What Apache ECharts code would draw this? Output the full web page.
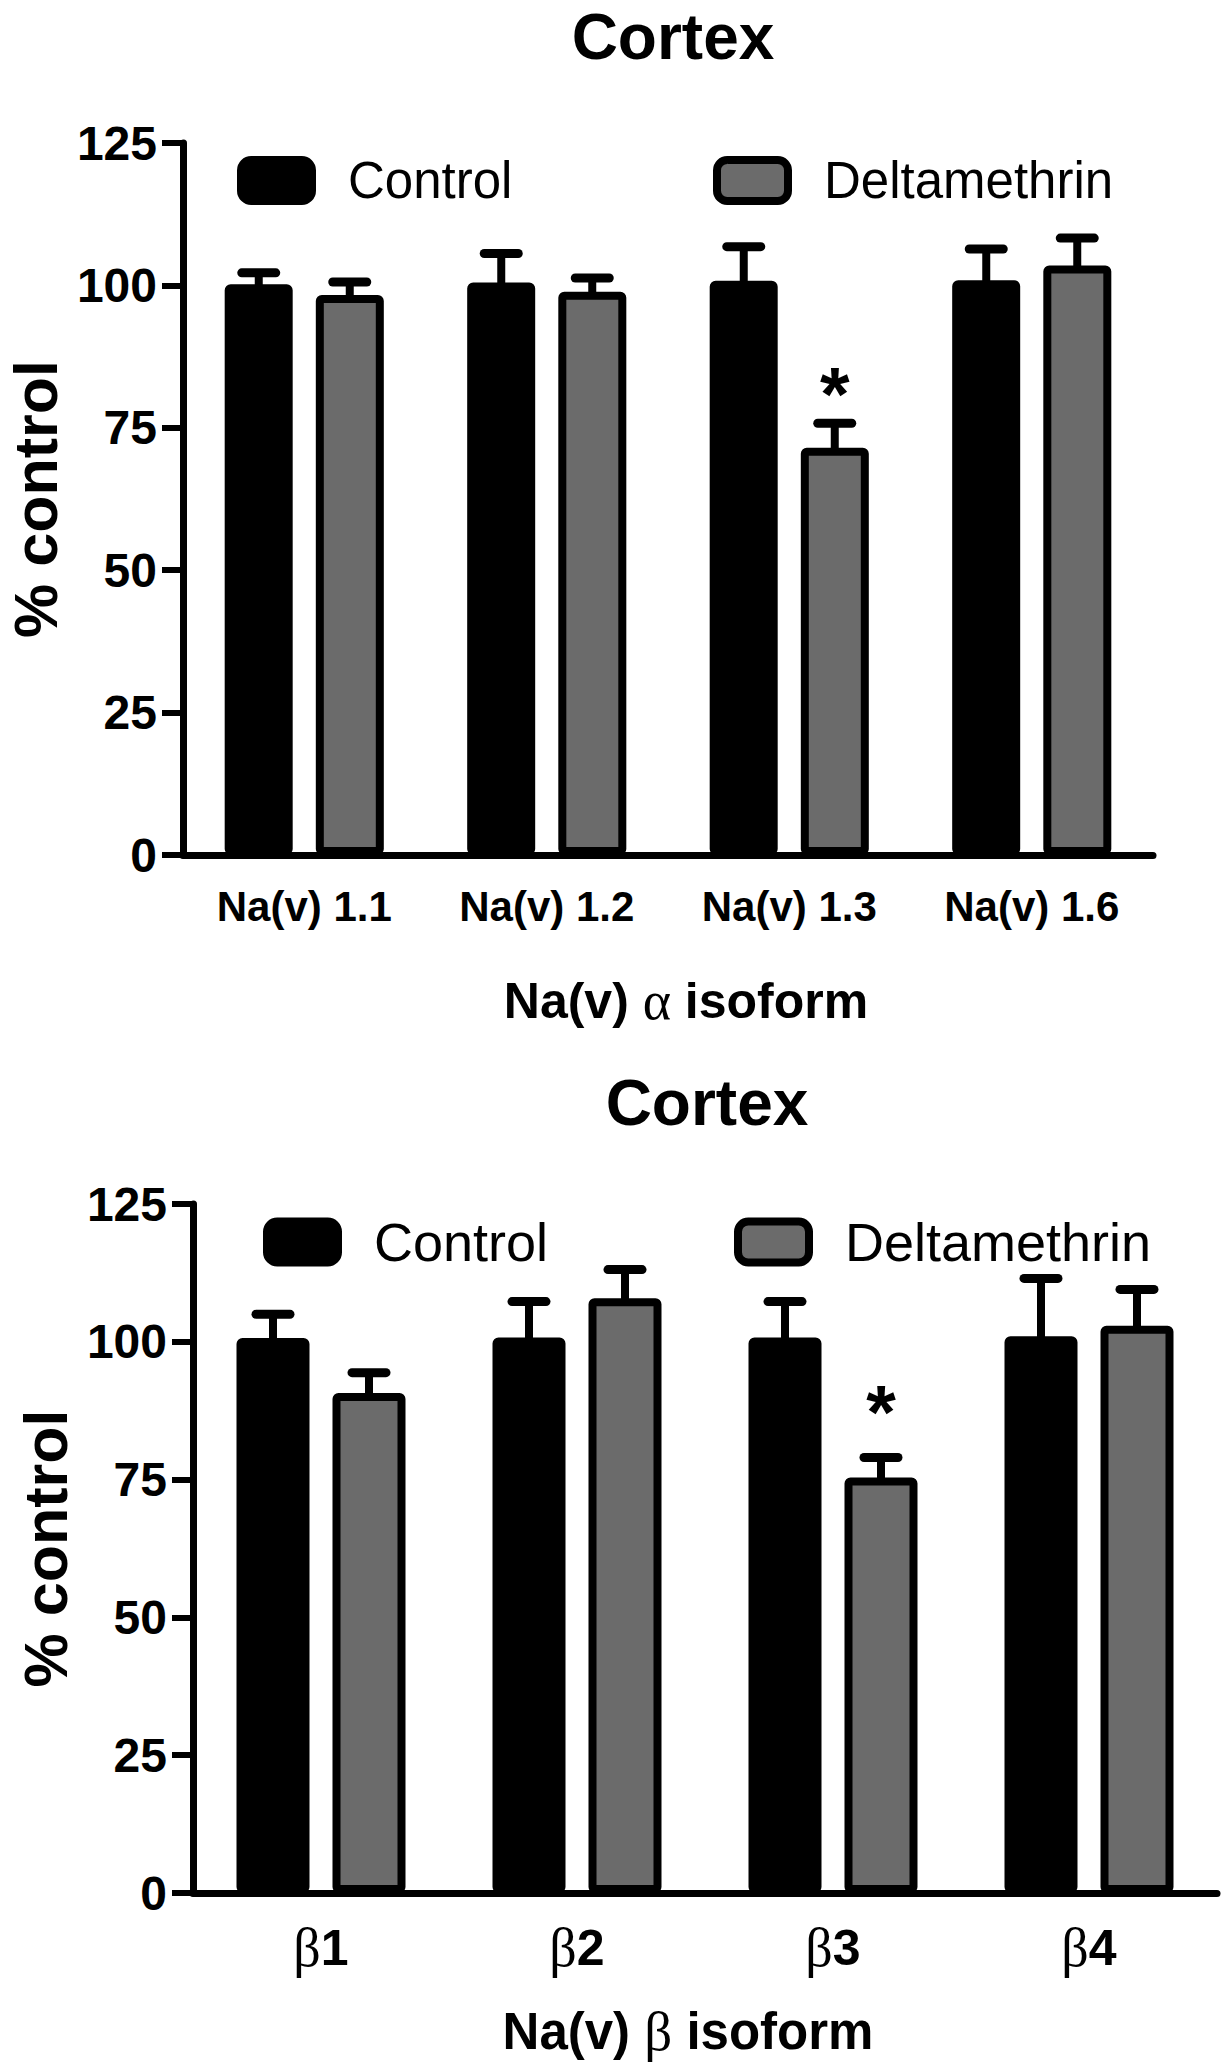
<!DOCTYPE html>
<html>
<head>
<meta charset="utf-8">
<script src="https://cdn.jsdelivr.net/npm/echarts@6/dist/echarts.min.js"></script>
<style>
  html, body { margin: 0; padding: 0; background: #fff; }
  #chart { width: 1230px; height: 2070px; }
</style>
</head>
<body>
<div id="chart"></div>
<script>
// data
var alphaCats = ["Na(v) 1.1", "Na(v) 1.2", "Na(v) 1.3", "Na(v) 1.6"];
var alphaControl = [100.2, 100.5, 100.8, 100.9];
var alphaControlErr = [2.0, 5.1, 6.0, 5.5];
var alphaDelta = [98.3, 98.9, 71.5, 103.5];
var alphaDeltaErr = [2.3, 2.4, 4.3, 4.8];
var alphaSig = ["", "", "*", ""];

var betaCats = ["\u03b21", "\u03b22", "\u03b23", "\u03b24"];
var betaControl = [100.7, 100.8, 100.8, 101.0];
var betaControlErr = [4.3, 6.5, 6.5, 10.5];
var betaDelta = [90.7, 107.9, 75.4, 102.9];
var betaDeltaErr = [3.7, 5.2, 3.6, 6.6];
var betaSig = ["", "", "*", ""];

var yTicks = [0, 25, 50, 75, 100, 125];

var FONT = "'Liberation Sans', Arial, sans-serif";
var GREEK = "'Liberation Serif', 'DejaVu Serif', serif";
var GRAY = "#6b6b6b";
var BORDER = 8;

var myChart = echarts.init(document.getElementById("chart"), null, { renderer: "svg" });

// greek letters were set in a thin serif (Symbol) in the original
function greek(s) {
  return s.replace(/([\u03b1\u03b2])/g, "{g|$1}");
}

// error bars (one sided, up) + significance marks
function errSeries(name, grid, vals, errs, sig, offset, starGap) {
  var data = vals.map(function (v, i) {
    return [i, v, errs[i], sig[i]];
  });
  return {
    name: name,
    type: "custom",
    xAxisIndex: grid,
    yAxisIndex: grid,
    z: 5,
    silent: true,
    data: data,
    renderItem: function (params, api) {
      var base = api.coord([api.value(0), api.value(1)]);
      var top = api.coord([api.value(0), api.value(1) + api.value(2)]);
      var x = base[0] + offset;
      var children = [
        {
          type: "line",
          shape: { x1: x, y1: base[1] + BORDER / 2, x2: x, y2: top[1] },
          style: { stroke: "#000", lineWidth: 8 }
        },
        {
          type: "line",
          shape: { x1: x - 17, y1: top[1], x2: x + 17, y2: top[1] },
          style: { stroke: "#000", lineWidth: 9, lineCap: "round" }
        }
      ];
      var s = data[params.dataIndex][3];
      if (s) {
        children.push({
          type: "text",
          x: x,
          y: top[1] - starGap,
          style: {
            text: s,
            fill: "#000",
            font: "bold 76px " + FONT,
            align: "center",
            verticalAlign: "middle"
          }
        });
      }
      return { type: "group", children: children };
    }
  };
}

function xAxisFor(grid, cats, title, labelSize, labelMargin, nameSize, nameGap, namePad) {
  return {
    type: "category",
    gridIndex: grid,
    data: cats,
    name: greek(title),
    nameLocation: "middle",
    nameGap: nameGap,
    nameTextStyle: {
      fontFamily: FONT, fontWeight: "bold", fontSize: nameSize, color: "#000", padding: namePad,
      rich: { g: { fontFamily: GREEK, fontWeight: "normal", fontSize: nameSize + 4, color: "#000" } }
    },
    axisLine: { lineStyle: { color: "#000", width: 7 } },
    axisTick: { alignWithLabel: true, length: 18, lineStyle: { color: "#000", width: 6 } },
    axisLabel: {
      interval: 0, margin: labelMargin, fontFamily: FONT, fontWeight: "bold", fontSize: labelSize, color: "#000",
      formatter: greek,
      rich: { g: { fontFamily: GREEK, fontWeight: "normal", fontSize: labelSize + 4, color: "#000" } }
    }
  };
}

function yAxisFor(grid, nameGap) {
  return {
    type: "value",
    gridIndex: grid,
    min: yTicks[0],
    max: yTicks[yTicks.length - 1],
    interval: 25,
    name: "% control",
    nameLocation: "middle",
    nameGap: nameGap,
    nameTextStyle: { fontFamily: FONT, fontWeight: "bold", fontSize: 61, color: "#000" },
    splitLine: { show: false },
    axisLine: { show: true, lineStyle: { color: "#000", width: 7 } },
    axisTick: { show: true, length: 21, lineStyle: { color: "#000", width: 6 } },
    axisLabel: { margin: 26, fontFamily: FONT, fontWeight: "bold", fontSize: 48, color: "#000" }
  };
}

function legendFor(name, left, top, fill, size) {
  return {
    data: [name],
    left: left,
    top: top,
    padding: 0,
    icon: "roundRect",
    itemWidth: 71,
    itemHeight: 41,
    selectedMode: false,
    itemStyle: { color: fill, borderColor: "#000", borderWidth: BORDER },
    textStyle: { fontFamily: FONT, fontSize: size, lineHeight: 41, color: "#000", padding: [0, 0, 0, 31] }
  };
}

// bar centres sit (barWidth + 23 px gap) / 2 either side of the tick
var topOff = 45.5;
var botOff = 48;

var option = {
  animation: false,
  backgroundColor: "#fff",
  title: [
    { text: "Cortex", left: 668, top: 0, textAlign: "center",
      textStyle: { fontFamily: FONT, fontWeight: "bold", fontSize: 64, color: "#000" } },
    { text: "Cortex", left: 702, top: 1066, textAlign: "center",
      textStyle: { fontFamily: FONT, fontWeight: "bold", fontSize: 64, color: "#000" } }
  ],
  legend: [
    legendFor("Control", 237, 155, "#000", 51),
    legendFor("Deltamethrin", 713, 155, GRAY, 51),
    legendFor("Control", 263, 1215, "#000", 54),
    legendFor("Deltamethrin", 734, 1215, GRAY, 54)
  ],
  grid: [
    { left: 183, top: 143, width: 970, height: 712, outerBoundsMode: "none" },
    { left: 193, top: 1204, width: 1024, height: 689, outerBoundsMode: "none" }
  ],
  xAxis: [
    xAxisFor(0, alphaCats, "Na(v) \u03b1 isoform", 42, 30, 50, 119, [0, 0, 0, 36]),
    xAxisFor(1, betaCats, "Na(v) \u03b2 isoform", 50, 28, 51, 111, [0, 34, 0, 0])
  ],
  yAxis: [yAxisFor(0, 95), yAxisFor(1, 114)],
  series: [
    {
      name: "Control", type: "bar", xAxisIndex: 0, yAxisIndex: 0,
      barWidth: 68, barGap: "34%", data: alphaControl,
      itemStyle: { color: "#000", borderColor: "#000", borderWidth: BORDER, borderRadius: 2 }
    },
    {
      name: "Deltamethrin", type: "bar", xAxisIndex: 0, yAxisIndex: 0,
      barWidth: 68, barGap: "34%", data: alphaDelta,
      itemStyle: { color: GRAY, borderColor: "#000", borderWidth: BORDER, borderRadius: 2 }
    },
    errSeries("Control", 0, alphaControl, alphaControlErr, ["", "", "", ""], -topOff, 28),
    errSeries("Deltamethrin", 0, alphaDelta, alphaDeltaErr, alphaSig, topOff, 30),
    {
      name: "Control", type: "bar", xAxisIndex: 1, yAxisIndex: 1,
      barWidth: 73, barGap: "31.5%", data: betaControl,
      itemStyle: { color: "#000", borderColor: "#000", borderWidth: BORDER, borderRadius: 2 }
    },
    {
      name: "Deltamethrin", type: "bar", xAxisIndex: 1, yAxisIndex: 1,
      barWidth: 73, barGap: "31.5%", data: betaDelta,
      itemStyle: { color: GRAY, borderColor: "#000", borderWidth: BORDER, borderRadius: 2 }
    },
    errSeries("Control", 1, betaControl, betaControlErr, ["", "", "", ""], -botOff, 28),
    errSeries("Deltamethrin", 1, betaDelta, betaDeltaErr, betaSig, botOff, 46)
  ]
};

myChart.setOption(option);
</script>
</body>
</html>
